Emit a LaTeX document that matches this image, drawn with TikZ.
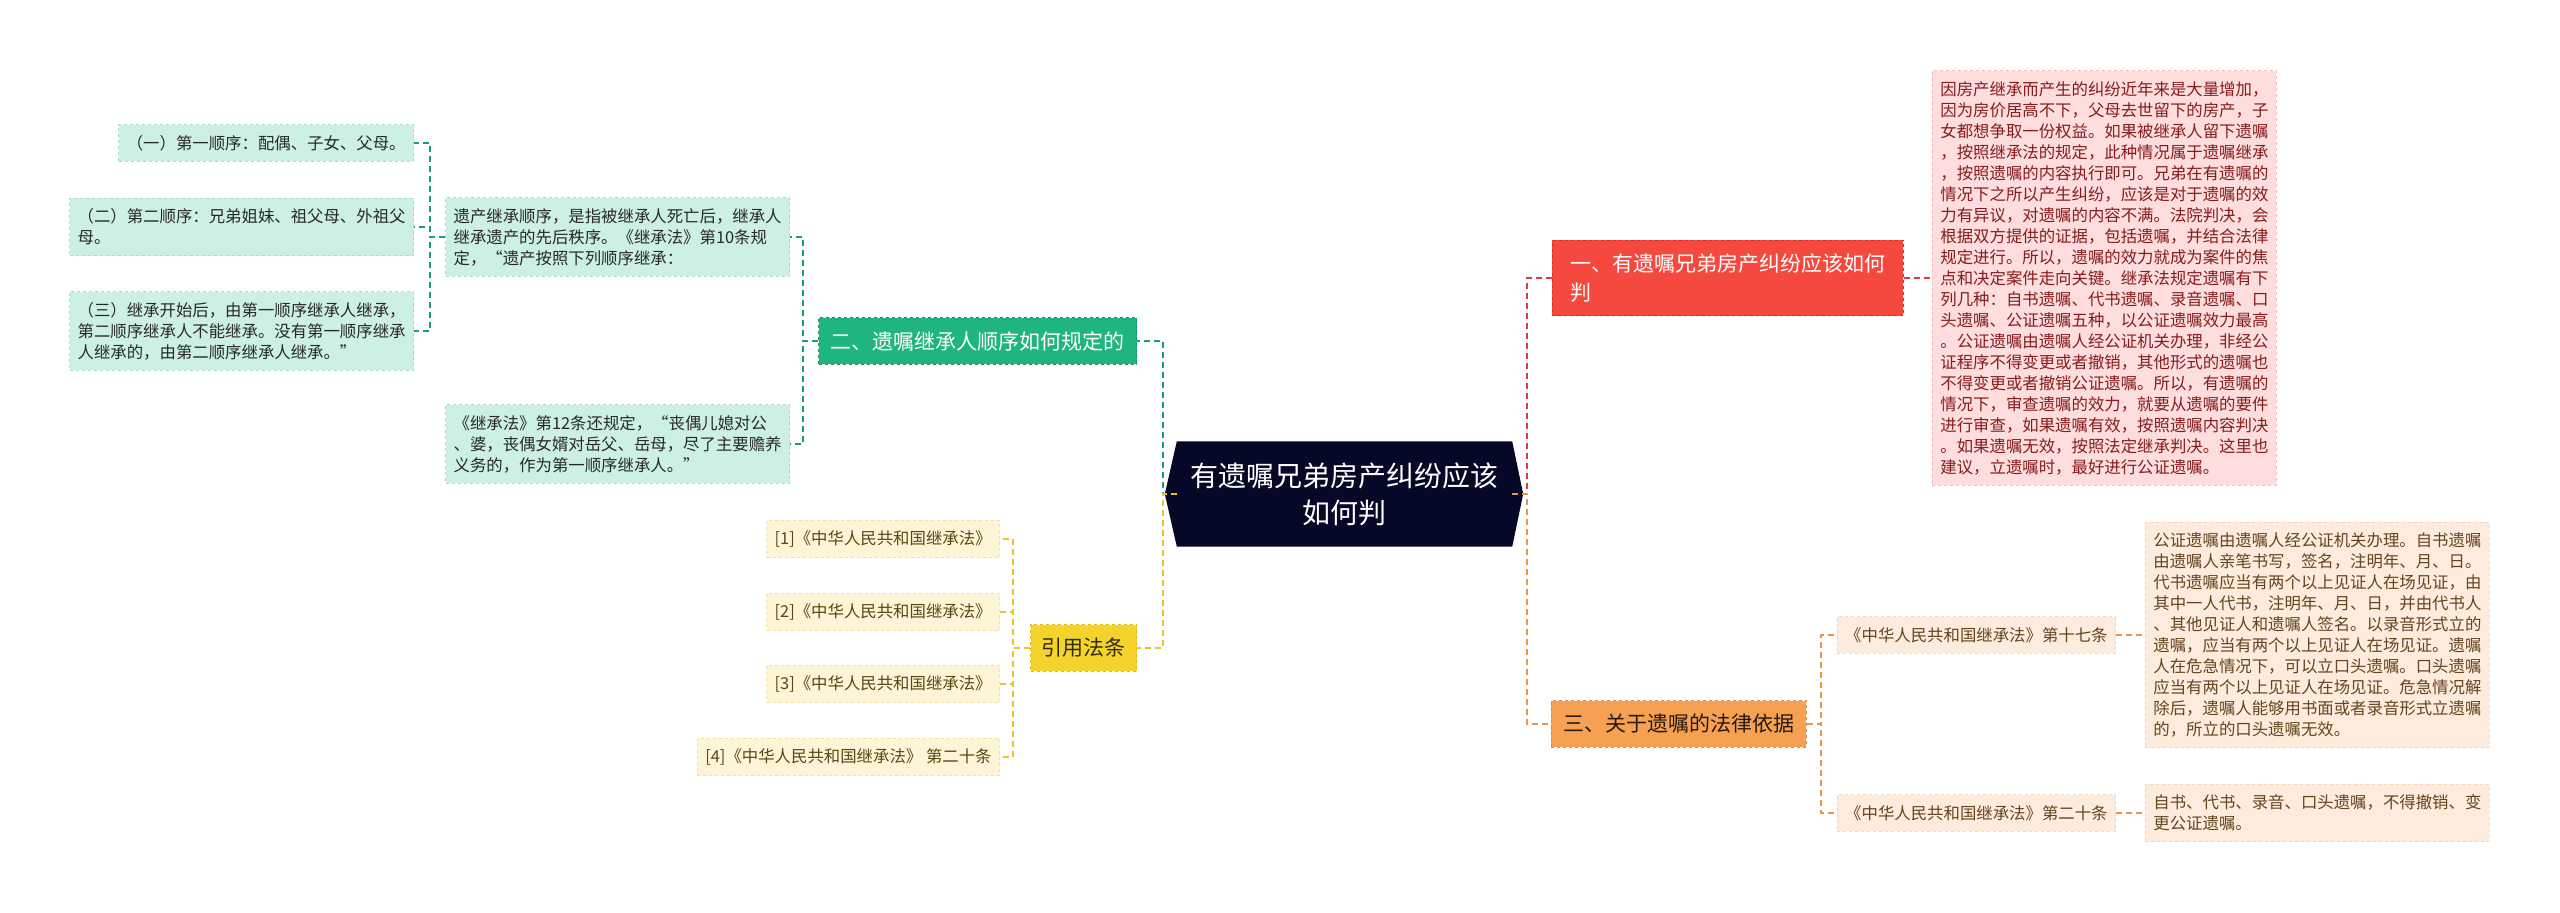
\documentclass[tikz,border=0pt]{standalone}
\usepackage{fontspec}
\setmainfont{Noto Sans CJK SC}
\usetikzlibrary{backgrounds}

\definecolor{rootbg}{RGB}{6,8,40}
\definecolor{redn}{RGB}{245,73,63}
\definecolor{redb}{RGB}{215,45,40}
\definecolor{redl}{RGB}{226,58,54}
\definecolor{pinkf}{RGB}{253,221,221}
\definecolor{pinkb}{RGB}{242,188,188}
\definecolor{pinkt}{RGB}{135,28,28}
\definecolor{orangen}{RGB}{246,161,82}
\definecolor{orangeb}{RGB}{228,138,62}
\definecolor{orangel}{RGB}{234,150,74}
\definecolor{peachf}{RGB}{253,236,221}
\definecolor{peachb}{RGB}{243,214,190}
\definecolor{peacht}{RGB}{100,68,30}
\definecolor{greenn}{RGB}{30,182,124}
\definecolor{greenb}{RGB}{20,150,100}
\definecolor{greenl}{RGB}{26,160,110}
\definecolor{lgreenf}{RGB}{204,240,225}
\definecolor{lgreenb}{RGB}{170,222,200}
\definecolor{lgreent}{RGB}{40,40,40}
\definecolor{yellown}{RGB}{244,212,44}
\definecolor{yellowb}{RGB}{225,190,30}
\definecolor{yellowl}{RGB}{230,198,40}
\definecolor{yellowt}{RGB}{50,44,10}
\definecolor{lyellowf}{RGB}{253,245,213}
\definecolor{lyellowb}{RGB}{240,225,170}
\definecolor{lyellowt}{RGB}{88,72,20}

\begin{document}
\begin{tikzpicture}[x=1pt, y=-1pt,
  conn/.style={dash pattern=on 6pt off 4pt, line width=1.8pt},
  lone/.style={draw, dashed, line width=0.8pt, inner xsep=12pt, inner ysep=13.5pt,
    font=\fontsize{21}{29}\selectfont, align=left},
  leaf/.style={draw, dashed, line width=0.8pt, inner xsep=8pt, inner ysep=10.5pt,
    font=\fontsize{16.4}{21}\selectfont, align=left},
  lgreen/.style={leaf, fill=lgreenf, draw=lgreenb, text=lgreent},
  lyellow/.style={leaf, fill=lyellowf, draw=lyellowb, text=lyellowt},
  peach/.style={leaf, fill=peachf, draw=peachb, text=peacht}]

\useasboundingbox (0,0) rectangle (2560,913);

\node[font=\fontsize{28}{37}\selectfont, text=white, align=center,
  minimum width=335pt, minimum height=105pt] (root) at (1344.5,494) {有遗嘱兄弟房产纠纷应该\\如何判};
\begin{scope}[on background layer]
\fill[rootbg] (root.north west) -- (root.north east) -- ([xshift=11pt]root.east)
  -- (root.south east) -- (root.south west) -- ([xshift=-12pt]root.west) -- cycle;
\end{scope}

\node[lone, fill=redn, draw=redb, text=white, inner xsep=18pt, anchor=west] (n1) at (1552,278)
  {一、有遗嘱兄弟房产纠纷应该如何\\判};
\node[leaf, fill=pinkf, draw=pinkb, text=pinkt, anchor=west] (p1) at (1932,278)
  {因房产继承而产生的纠纷近年来是大量增加，\\
   因为房价居高不下，父母去世留下的房产，子\\
   女都想争取一份权益。如果被继承人留下遗嘱\\
   ，按照继承法的规定，此种情况属于遗嘱继承\\
   ，按照遗嘱的内容执行即可。兄弟在有遗嘱的\\
   情况下之所以产生纠纷，应该是对于遗嘱的效\\
   力有异议，对遗嘱的内容不满。法院判决，会\\
   根据双方提供的证据，包括遗嘱，并结合法律\\
   规定进行。所以，遗嘱的效力就成为案件的焦\\
   点和决定案件走向关键。继承法规定遗嘱有下\\
   列几种：自书遗嘱、代书遗嘱、录音遗嘱、口\\
   头遗嘱、公证遗嘱五种，以公证遗嘱效力最高\\
   。公证遗嘱由遗嘱人经公证机关办理，非经公\\
   证程序不得变更或者撤销，其他形式的遗嘱也\\
   不得变更或者撤销公证遗嘱。所以，有遗嘱的\\
   情况下，审查遗嘱的效力，就要从遗嘱的要件\\
   进行审查，如果遗嘱有效，按照遗嘱内容判决\\
   。如果遗嘱无效，按照法定继承判决。这里也\\
   建议，立遗嘱时，最好进行公证遗嘱。};

\node[lone, fill=orangen, draw=orangeb, text=black!80!brown, anchor=west] (n3) at (1551,724)
  {三、关于遗嘱的法律依据};
\node[peach, anchor=east] (law17) at (2116,635) {《中华人民共和国继承法》第十七条};
\node[peach, anchor=west] (p17) at (2145,635)
  {公证遗嘱由遗嘱人经公证机关办理。自书遗嘱\\
   由遗嘱人亲笔书写，签名，注明年、月、日。\\
   代书遗嘱应当有两个以上见证人在场见证，由\\
   其中一人代书，注明年、月、日，并由代书人\\
   、其他见证人和遗嘱人签名。以录音形式立的\\
   遗嘱，应当有两个以上见证人在场见证。遗嘱\\
   人在危急情况下，可以立口头遗嘱。口头遗嘱\\
   应当有两个以上见证人在场见证。危急情况解\\
   除后，遗嘱人能够用书面或者录音形式立遗嘱\\
   的，所立的口头遗嘱无效。};
\node[peach, anchor=east] (law20) at (2116,813) {《中华人民共和国继承法》第二十条};
\node[peach, anchor=west] (p20) at (2145,813)
  {自书、代书、录音、口头遗嘱，不得撤销、变\\
   更公证遗嘱。};

\node[lone, fill=greenn, draw=greenb, text=white, anchor=east] (n2) at (1137,341)
  {二、遗嘱继承人顺序如何规定的};
\node[lgreen, anchor=east] (order) at (790,237)
  {遗产继承顺序，是指被继承人死亡后，继承人\\
   继承遗产的先后秩序。《继承法》第10条规\\
   定，“遗产按照下列顺序继承：};
\node[lgreen, anchor=east] (art12) at (790,444)
  {《继承法》第12条还规定，“丧偶儿媳对公\\
   、婆，丧偶女婿对岳父、岳母，尽了主要赡养\\
   义务的，作为第一顺序继承人。”};
\node[lgreen, anchor=east] (o1) at (414,143) {（一）第一顺序：配偶、子女、父母。};
\node[lgreen, anchor=east] (o2) at (414,227)
  {（二）第二顺序：兄弟姐妹、祖父母、外祖父\\
   母。};
\node[lgreen, anchor=east] (o3) at (414,331)
  {（三）继承开始后，由第一顺序继承人继承，\\
   第二顺序继承人不能继承。没有第一顺序继承\\
   人继承的，由第二顺序继承人继承。”};

\node[lone, fill=yellown, draw=yellowb, text=yellowt, inner xsep=11pt, anchor=east] (cite) at (1137,648)
  {引用法条};
\node[lyellow, anchor=east] (c1) at (1000,539) {[1]《中华人民共和国继承法》};
\node[lyellow, anchor=east] (c2) at (1000,612) {[2]《中华人民共和国继承法》};
\node[lyellow, anchor=east] (c3) at (1000,684) {[3]《中华人民共和国继承法》};
\node[lyellow, anchor=east] (c4) at (1000,757) {[4]《中华人民共和国继承法》 第二十条};

\draw[conn, redl] (root.east) -- ++(15,0) |- (n1.west);
\draw[conn, orangel] (root.east) -- ++(15,0) |- (n3.west);
\draw[conn, greenl] (root.west) -- ++(-14,0) |- (n2.east);
\draw[conn, yellowl] (root.west) -- ++(-14,0) |- (cite.east);

\draw[conn, redl] (n1.east) -- (p1.west);
\draw[conn, orangel] (n3.east) -- ++(14,0) |- (law17.west);
\draw[conn, orangel] (n3.east) -- ++(14,0) |- (law20.west);
\draw[conn, orangel] (law17.east) -- (p17.west);
\draw[conn, orangel] (law20.east) -- (p20.west);

\draw[conn, greenl] (n2.west) -- ++(-15,0) |- (order.east);
\draw[conn, greenl] (n2.west) -- ++(-15,0) |- (art12.east);
\draw[conn, greenl] (order.west) -- ++(-15,0) |- (o1.east);
\draw[conn, greenl] (order.west) -- ++(-15,0) |- (o2.east);
\draw[conn, greenl] (order.west) -- ++(-15,0) |- (o3.east);

\draw[conn, yellowl] (cite.west) -- ++(-17,0) |- (c1.east);
\draw[conn, yellowl] (cite.west) -- ++(-17,0) |- (c2.east);
\draw[conn, yellowl] (cite.west) -- ++(-17,0) |- (c3.east);
\draw[conn, yellowl] (cite.west) -- ++(-17,0) |- (c4.east);
\end{tikzpicture}
\end{document}
